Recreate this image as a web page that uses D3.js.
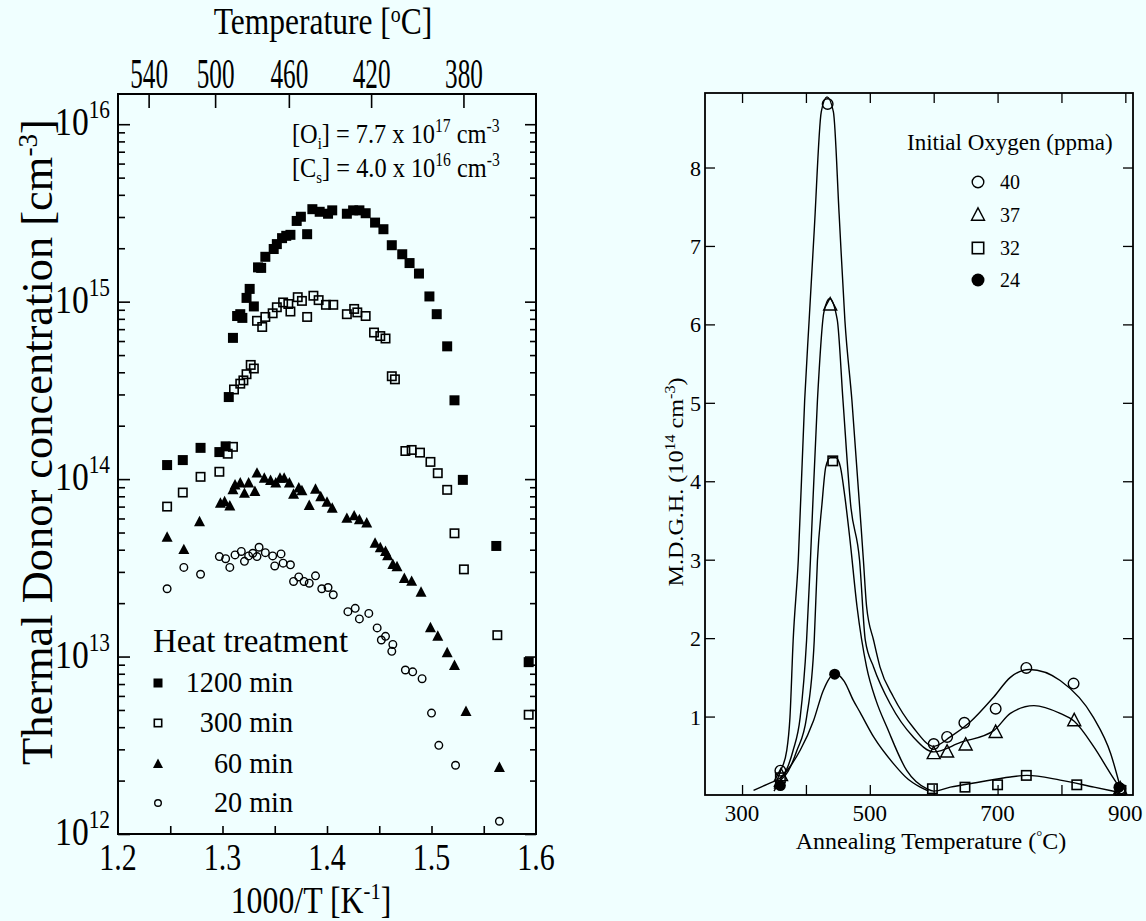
<!DOCTYPE html>
<html><head><meta charset="utf-8">
<script src="https://cdn.jsdelivr.net/npm/d3@7"></script>
<style>
html,body{margin:0;padding:0;background:#f0ffff;}
svg{display:block;}
</style></head><body>
<svg id="c" width="1146" height="921"></svg>
<script>
// ---------------- LEFT PANEL DATA: [1000/T (K^-1), concentration (cm^-3)] ----------------
const ht1200 = [[1.247,1.2e14],[1.262,1.28e14],[1.279,1.5e14],[1.297,1.42e14],[1.303,1.53e14],
 [1.306,2.9e14],[1.310,6.25e14],[1.314,8.3e14],[1.317,8.5e14],[1.319,8.1e14],[1.323,1.05e15],[1.326,1.18e15],
 [1.330,9.4e14],[1.334,1.56e15],[1.337,1.55e15],[1.341,1.79e15],[1.349,1.98e15],[1.352,2.11e15],[1.357,2.28e15],
 [1.361,2.35e15],[1.365,2.38e15],[1.371,2.85e15],[1.375,3.01e15],[1.381,2.40e15],[1.386,3.32e15],[1.393,3.21e15],
 [1.401,3.13e15],[1.405,3.27e15],[1.419,3.13e15],[1.425,3.27e15],[1.431,3.27e15],[1.437,3.15e15],[1.446,2.79e15],
 [1.454,2.56e15],[1.462,2.08e15],[1.472,1.85e15],[1.479,1.65e15],[1.488,1.44e15],[1.498,1.07e15],[1.505,8.5e14],
 [1.515,5.6e14],[1.522,2.78e14],[1.530,9.9e13],[1.562,4.2e13],[1.593,9.3e12]];
const ht300 = [[1.247,7.0e13],[1.262,8.4e13],[1.279,1.03e14],[1.297,1.1e14],[1.305,1.39e14],[1.310,1.52e14],
 [1.311,3.2e14],[1.317,3.45e14],[1.320,3.6e14],[1.323,3.9e14],[1.327,4.4e14],[1.330,4.2e14],
 [1.333,7.8e14],[1.338,7.2e14],[1.341,8.2e14],[1.348,8.6e14],[1.352,9.3e14],[1.358,9.9e14],[1.363,9.7e14],
 [1.365,8.8e14],[1.372,1.06e15],[1.376,1.01e15],[1.381,8.2e14],[1.387,1.08e15],[1.392,1.02e15],[1.399,9.6e14],
 [1.406,9.6e14],[1.419,8.5e14],[1.426,9.1e14],[1.429,8.7e14],[1.437,8.3e14],[1.445,6.7e14],[1.451,6.4e14],
 [1.456,6.2e14],[1.462,3.8e14],[1.465,3.65e14],[1.475,1.44e14],[1.481,1.46e14],[1.489,1.41e14],[1.499,1.25e14],
 [1.506,1.08e14],[1.515,8.7e13],[1.522,4.95e13],[1.531,3.1e13],[1.563,1.32e13],[1.593,4.7e12]];
const ht60 = [[1.247,4.7e13],[1.263,4.0e13],[1.278,5.75e13],[1.298,7.3e13],[1.302,7.45e13],[1.307,7.05e13],
 [1.310,8.7e13],[1.312,9.25e13],[1.317,9.5e13],[1.321,8.3e13],[1.325,9.5e13],[1.331,8.5e13],[1.333,1.08e14],
 [1.340,1.01e14],[1.346,9.8e13],[1.351,9.5e13],[1.355,1.01e14],[1.359,1.01e14],[1.364,9.5e13],[1.368,8.2e13],
 [1.373,8.9e13],[1.376,8.6e13],[1.383,7.1e13],[1.389,8.75e13],[1.394,7.95e13],[1.400,7.4e13],[1.405,6.85e13],
 [1.419,6.0e13],[1.426,6.2e13],[1.431,5.9e13],[1.438,5.65e13],[1.446,4.35e13],[1.451,4.1e13],[1.456,3.9e13],
 [1.458,3.7e13],[1.463,3.3e13],[1.467,3.2e13],[1.474,2.75e13],[1.481,2.65e13],[1.490,2.3e13],[1.499,1.45e13],
 [1.506,1.3e13],[1.515,1.05e13],[1.522,8.9e12],[1.533,4.9e12],[1.565,2.37e12]];
const ht20 = [[1.247,2.41e13],[1.263,3.18e13],[1.279,2.91e13],[1.297,3.66e13],[1.303,3.56e13],[1.307,3.18e13],
 [1.312,3.74e13],[1.318,3.91e13],[1.321,3.44e13],[1.325,3.69e13],[1.329,3.82e13],[1.333,3.66e13],[1.335,4.13e13],
 [1.341,3.85e13],[1.348,3.69e13],[1.350,3.24e13],[1.356,3.79e13],[1.358,3.36e13],[1.365,3.29e13],[1.368,2.65e13],
 [1.373,2.81e13],[1.378,2.65e13],[1.383,2.59e13],[1.389,2.85e13],[1.395,2.41e13],[1.401,2.45e13],[1.406,2.23e13],
 [1.420,1.79e13],[1.427,1.87e13],[1.431,1.63e13],[1.440,1.75e13],[1.448,1.45e13],[1.452,1.24e13],[1.456,1.3e13],
 [1.463,1.17e13],[1.462,1.07e13],[1.475,8.4e12],[1.482,8.2e12],[1.491,7.5e12],[1.500,4.8e12],[1.507,3.16e12],
 [1.523,2.44e12],[1.565,1.18e12]];
const leftXTicks = [1.2,1.3,1.4,1.5,1.6];
const leftXMinor = [1.25,1.3,1.35,1.4,1.45,1.5,1.55];
const leftYMajor = [1e12,1e13,1e14,1e15,1e16];
const leftYExp = ["12","13","14","15","16"];
const topTempTicks = [540,500,460,420,380];
const legendLeft = ["1200 min","300 min","60 min","20 min"];

// ---------------- RIGHT PANEL DATA: [annealing T (°C), M.D.G.H. (1e14 cm^-3)] ----------------
const pts40 = [[360,0.31],[434,8.81],[600,0.65],[621,0.74],[648,0.92],[697,1.10],[745,1.62],[819,1.42],[892,0.08]];
const pts37 = [[361,0.25],[438,6.25],[600,0.53],[621,0.55],[650,0.64],[697,0.80],[820,0.95],[892,0.08]];
const pts32 = [[360,0.22],[442,4.26],[598,0.08],[649,0.10],[700,0.13],[745,0.25],[824,0.13],[892,0.06]];
const pts24 = [[360,0.12],[445,1.54],[890,0.10]];
const fit40 = [[350,0.1],[360,0.3],[370,0.57],[375,0.99],[380,1.97],[388,2.99],[398,5.03],[405,6.05],[413,7.2],
 [424,8.71],[433,8.9],[443,8.71],[452,7.4],[461,6.05],[472,5.03],[490,2.99],[495,2.4],[506,1.97],[516,1.63],
 [537,1.25],[568,0.86],[600,0.62],[626,0.74],[657,0.93],[694,1.25],[720,1.5],[750,1.6],[798,1.46],[850,0.99],
 [877,0.53],[892,0.1]];
const fit37 = [[350,0.08],[360,0.2],[370,0.33],[380,0.57],[391,0.99],[401,1.97],[407,2.99],[418,5.03],[428,6.15],
 [437,6.33],[449,6.06],[458,5.03],[470,3.7],[484,2.99],[493,1.97],[506,1.63],[532,1.16],[568,0.74],[600,0.55],
 [642,0.67],[694,0.82],[720,1.04],[757,1.14],[798,1.04],[820,0.94],[851,0.61],[877,0.27],[892,0.08]];
const fit32 = [[350,0.05],[360,0.18],[372,0.3],[386,0.57],[401,0.99],[413,1.97],[418,2.99],[425,3.7],[431,4.18],
 [438,4.3],[447,4.3],[454,4.18],[461,3.8],[469,3.25],[480,2.4],[495,1.63],[510,1.2],[527,0.86],[558,0.31],
 [589,0.08],[600,0.05],[626,0.1],[668,0.16],[720,0.23],[746,0.25],[798,0.19],[851,0.1],[892,0.03]];
const fit24 = [[318,0.06],[340,0.14],[360,0.22],[375,0.36],[391,0.57],[412,0.95],[427,1.33],[445,1.55],
 [460,1.45],[474,1.21],[485,1.05],[506,0.74],[537,0.40],[560,0.2],[579,0.10],[592,0.05]];
const rightXTicks = [300,400,500,600,700,800,900];
const rightXLabels = [300,500,700,900];
const rightYTicks = [1,2,3,4,5,6,7,8];
const legendRight = ["40","37","32","24"];

// ---------------- DRAW ----------------
const SERIF = "'Liberation Serif','Times New Roman',serif";
const svg = d3.select("#c");
svg.append("rect").attr("width",1146).attr("height",921).attr("fill","#f0ffff");

function stext(parent, x, y, sx, size, anchor, rot){
  const g = parent.append("g").attr("transform",
    `translate(${x},${y})` + (rot ? ` rotate(${rot})` : "") + ` scale(${sx},1)`);
  return g.append("text").attr("font-family",SERIF).attr("font-size",size)
    .attr("text-anchor",anchor).attr("fill","#000");
}

// ===== Left panel =====
const xL = d3.scaleLinear().domain([1.2,1.6]).range([118,536]);
const yL = d3.scaleLog().domain([1e12,1.48e16]).range([834,94]);
const L = svg.append("g");
const axStyle = g => { g.select(".domain").remove(); g.selectAll("line").attr("stroke","#000").attr("stroke-width",1.6); };

const minorY = [];
[12,13,14,15].forEach(d => { for (let m=2;m<=9;m++) minorY.push(m*Math.pow(10,d)); });

L.append("g").attr("transform","translate(118,0)")
  .call(d3.axisLeft(yL).tickValues(leftYMajor).tickSize(-12).tickFormat("")).call(axStyle);
L.append("g").attr("transform","translate(118,0)")
  .call(d3.axisLeft(yL).tickValues(minorY).tickSize(-7).tickFormat("")).call(axStyle);
L.append("g").attr("transform","translate(536,0)")
  .call(d3.axisRight(yL).tickValues(leftYMajor).tickSize(-11).tickFormat("")).call(axStyle);
L.append("g").attr("transform","translate(536,0)")
  .call(d3.axisRight(yL).tickValues(minorY).tickSize(-6).tickFormat("")).call(axStyle);
L.append("g").attr("transform","translate(0,834)")
  .call(d3.axisBottom(xL).tickValues(leftXMinor).tickSize(-8).tickFormat("")).call(axStyle);
const tPos = t => xL(1000/(t+273.15));
L.selectAll(".ttick").data(topTempTicks).enter().append("line")
  .attr("x1",d=>tPos(d)).attr("x2",d=>tPos(d)).attr("y1",94).attr("y2",108)
  .attr("stroke","#000").attr("stroke-width",1.6);
L.append("rect").attr("x",118).attr("y",94).attr("width",418).attr("height",740)
  .attr("fill","none").attr("stroke","#000").attr("stroke-width",2);

// y labels
leftYMajor.forEach((v,i) => {
  const t = stext(L, 110, yL(v)+11, 0.82, 41, "end");
  t.append("tspan").text("10");
  t.append("tspan").attr("dy",-17).attr("font-size",26).text(leftYExp[i]);
});
// x labels
leftXTicks.forEach(v => { stext(L, xL(v), 870, 0.81, 37, "middle").text(v.toFixed(1)); });
// top labels
topTempTicks.forEach(v => { stext(L, tPos(v), 88, 0.6, 42, "middle").text(v); });
// titles
{ const t = stext(L, 323, 34, 0.83, 38, "middle");
  t.append("tspan").text("Temperature [");
  t.append("tspan").attr("dy",-12).attr("font-size",24).text("o");
  t.append("tspan").attr("dy",12).text("C]"); }
{ const t = stext(L, 311, 913, 0.86, 37, "middle");
  t.append("tspan").text("1000/T  [K");
  t.append("tspan").attr("dy",-14).attr("font-size",24).text("-1");
  t.append("tspan").attr("dy",14).text("]"); }
{ const t = stext(L, 52, 442, 1.01, 44, "middle", -90);
  t.append("tspan").text("Thermal Donor concentration [cm");
  t.append("tspan").attr("dy",-15).attr("font-size",27).text("-3");
  t.append("tspan").attr("dy",15).text("]"); }
// annotations
{ const t = stext(L, 292, 143, 0.87, 28, "start");
  t.append("tspan").text("[O");
  t.append("tspan").attr("dy",6).attr("font-size",17).text("i");
  t.append("tspan").attr("dy",-6).text("] = 7.7 x 10");
  t.append("tspan").attr("dy",-11).attr("font-size",18).text("17");
  t.append("tspan").attr("dy",11).text(" cm");
  t.append("tspan").attr("dy",-11).attr("font-size",18).text("-3"); }
{ const t = stext(L, 292, 177, 0.87, 28, "start");
  t.append("tspan").text("[C");
  t.append("tspan").attr("dy",6).attr("font-size",17).text("s");
  t.append("tspan").attr("dy",-6).text("] = 4.0 x 10");
  t.append("tspan").attr("dy",-11).attr("font-size",18).text("16");
  t.append("tspan").attr("dy",11).text(" cm");
  t.append("tspan").attr("dy",-11).attr("font-size",18).text("-3"); }

// markers
function drawMarker(g, type, x, y, s){
  if (type==="fsq") g.append("rect").attr("x",x-s/2).attr("y",y-s/2).attr("width",s).attr("height",s).attr("fill","#000");
  else if (type==="osq") g.append("rect").attr("x",x-s/2+0.8).attr("y",y-s/2+0.8).attr("width",s-1.6).attr("height",s-1.6)
      .attr("fill","none").attr("stroke","#000").attr("stroke-width",1.6);
  else if (type==="ftri") g.append("path").attr("d",`M${x},${y-s*0.55}L${x+s/2},${y+s*0.4}L${x-s/2},${y+s*0.4}Z`).attr("fill","#000");
  else if (type==="otri") g.append("path").attr("d",`M${x},${y-s*0.55}L${x+s/2},${y+s*0.4}L${x-s/2},${y+s*0.4}Z`)
      .attr("fill","none").attr("stroke","#000").attr("stroke-width",1.4);
  else if (type==="ocirc") g.append("circle").attr("cx",x).attr("cy",y).attr("r",s/2-0.7)
      .attr("fill","none").attr("stroke","#000").attr("stroke-width",1.4);
  else if (type==="fcirc") g.append("circle").attr("cx",x).attr("cy",y).attr("r",s/2).attr("fill","#000");
}
const leftSeries = [[ht1200,"fsq",10],[ht300,"osq",10],[ht60,"ftri",11],[ht20,"ocirc",9]];
const LM = L.append("g");
leftSeries.forEach(([data,type,s]) => data.forEach(d => drawMarker(LM, type, xL(d[0]), yL(d[1]), s)));

// legend
L.append("text").attr("x",153).attr("y",652).attr("font-family",SERIF).attr("font-size",33).text("Heat treatment");
const legY = [683,723,764,803];
leftSeries.forEach(([data,type,s],i) => {
  drawMarker(L, type, 158, legY[i], s-1);
  stext(L, 293, legY[i]+9, 0.94, 30, "end").text(legendLeft[i]);
});

// ===== Right panel =====
const xR = d3.scaleLinear().domain([242,912]).range([705,1133]);
const yR = d3.scaleLinear().domain([0,8.95]).range([795,93]);
const R = svg.append("g");
const axR = g => { g.select(".domain").remove(); g.selectAll("line").attr("stroke","#000").attr("stroke-width",1.3); g.selectAll("text").remove(); };
R.append("g").attr("transform","translate(705,0)").call(d3.axisLeft(yR).tickValues(rightYTicks).tickSize(-10)).call(axR);
R.append("g").attr("transform","translate(1133,0)").call(d3.axisRight(yR).tickValues(rightYTicks).tickSize(-10)).call(axR);
R.append("g").attr("transform","translate(0,795)").call(d3.axisBottom(xR).tickValues(rightXTicks).tickSize(-10)).call(axR);
R.append("g").attr("transform","translate(0,93)").call(d3.axisTop(xR).tickValues(rightXTicks).tickSize(-10)).call(axR);
R.append("rect").attr("x",705).attr("y",93).attr("width",428).attr("height",702)
  .attr("fill","none").attr("stroke","#000").attr("stroke-width",1.8);

rightYTicks.forEach(v => R.append("text").attr("x",701).attr("y",yR(v)+8).attr("text-anchor","end")
  .attr("font-family",SERIF).attr("font-size",22).text(v));
rightXLabels.forEach(v => R.append("text").attr("x",xR(v)).attr("y",821).attr("text-anchor","middle")
  .attr("font-family",SERIF).attr("font-size",23).text(v));
{ const t = R.append("text").attr("x",931).attr("y",849).attr("text-anchor","middle")
    .attr("font-family",SERIF).attr("font-size",24);
  t.append("tspan").text("Annealing Temperature (");
  t.append("tspan").attr("dy",-8).attr("font-size",15).text("°");
  t.append("tspan").attr("dy",8).text("C)"); }
{ const t = stext(R, 683, 482, 1.15, 21, "middle", -90);
  t.append("tspan").text("M.D.G.H. (10");
  t.append("tspan").attr("dy",-8).attr("font-size",14).text("14");
  t.append("tspan").attr("dy",8).text(" cm");
  t.append("tspan").attr("dy",-8).attr("font-size",14).text("-3");
  t.append("tspan").attr("dy",8).text(")"); }

// curves
R.append("clipPath").attr("id","clipR").append("rect").attr("x",705).attr("y",93).attr("width",428).attr("height",702);
const line = d3.line().x(d=>xR(d[0])).y(d=>yR(d[1])).curve(d3.curveMonotoneX);
const CR = R.append("g").attr("clip-path","url(#clipR)");
[fit40,fit37,fit32,fit24].forEach(f => CR.append("path").attr("d",line(f)).attr("fill","none")
  .attr("stroke","#000").attr("stroke-width",1.4));
const rightSeries = [[pts40,"ocirc",12],[pts37,"otri",13],[pts32,"osq",11],[pts24,"fcirc",11]];
const RM = R.append("g");
rightSeries.forEach(([data,type,s]) => data.forEach(d => drawMarker(RM, type, xR(d[0]), yR(d[1]), s)));
// legend
R.append("text").attr("x",907).attr("y",150).attr("font-family",SERIF).attr("font-size",23).text("Initial Oxygen (ppma)");
const legRY = [182,215,248,280];
rightSeries.forEach(([data,type,s],i) => {
  drawMarker(R, type, 978, legRY[i], 13);
  R.append("text").attr("x",1000).attr("y",legRY[i]+7).attr("font-family",SERIF).attr("font-size",20).text(legendRight[i]);
});
</script>
</body></html>
